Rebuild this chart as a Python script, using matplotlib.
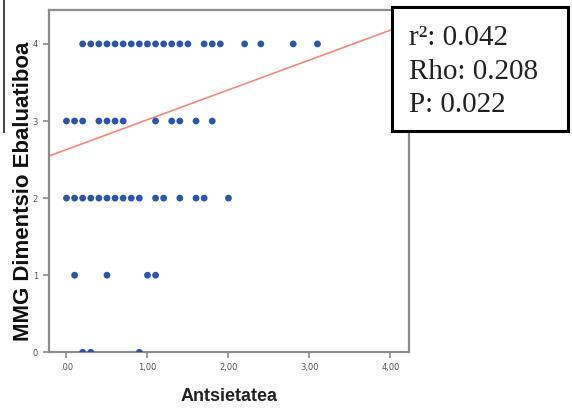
import matplotlib

matplotlib.use("Agg")
import matplotlib.pyplot as plt
import numpy as np
from matplotlib.lines import Line2D
from matplotlib.patches import Rectangle

# anxiety score per subject, grouped by dimension evaluation level
x_level4 = [0.2, 0.3, 0.4, 0.5, 0.6, 0.7, 0.8, 0.9, 1.0, 1.1, 1.2, 1.3, 1.4, 1.5,
            1.7, 1.8, 1.9, 2.2, 2.4, 2.8, 3.1]
x_level3 = [0.0, 0.1, 0.2, 0.4, 0.5, 0.6, 0.7, 1.1, 1.3, 1.4, 1.6, 1.8]
x_level2 = [0.0, 0.1, 0.2, 0.3, 0.4, 0.5, 0.6, 0.7, 0.8, 0.9, 1.1, 1.2, 1.4,
            1.6, 1.7, 2.0]
x_level1 = [0.1, 0.5, 1.0, 1.1]
x_level0 = [0.2, 0.3, 0.9]

levels = [4, 3, 2, 1, 0]
groups = [x_level4, x_level3, x_level2, x_level1, x_level0]

# fit line as reported by the stats package
fit_intercept = 2.63
fit_slope = 0.387

stats_lines = ["r²: 0.042", "Rho: 0.208", "P: 0.022"]

x_ticks = [0, 1, 2, 3, 4]
x_tick_labels = [".00", "1,00", "2,00", "3,00", "4,00"]
y_ticks = [0, 1, 2, 3, 4]

xs = np.concatenate([np.array(g) for g in groups])
ys = np.concatenate([np.full(len(g), lv) for g, lv in zip(groups, levels)])

W, H = 572, 411
fig = plt.figure(figsize=(W / 100, H / 100), dpi=100)
ax = fig.add_axes([49 / W, 1 - 352.3 / H, 360 / W, 342.3 / H])

frame_color = "#8c8c8c"
for side in ax.spines.values():
    side.set_color(frame_color)
    side.set_linewidth(1.6)

ax.scatter(xs, ys, s=24, color="#2e55a8", edgecolors="none", zorder=3)

line_x = np.array([-0.216, 4.23])
ax.plot(line_x, fit_intercept + fit_slope * line_x, color="#f08a80",
        linewidth=1.2, zorder=2)

ax.set_xlim(-0.216, 4.23)
ax.set_ylim(0, 4.44)
ax.set_xticks(x_ticks)
ax.set_xticklabels(x_tick_labels)
ax.set_yticks(y_ticks)
ax.tick_params(axis="both", direction="out", length=4, width=1.2,
               color=frame_color, labelsize=6, labelcolor="#555555", pad=4)

ax.set_xlabel("Antsietatea", fontsize=13, fontweight="bold",
              family="Liberation Sans", color="#222222", labelpad=11)
ax.set_ylabel("MMG Dimentsio Ebaluatiboa", fontsize=16, fontweight="bold",
              family="Liberation Sans", color="#111111")
ax.yaxis.set_label_coords(-15 / 360, 0.47)

# stats box drawn over the top-right corner of the frame
fig.add_artist(Rectangle((392 / W, 1 - 131 / H), 176 / W, 124 / H,
                         transform=fig.transFigure, facecolor="white",
                         edgecolor="black", linewidth=2.2, zorder=10))
for i, txt in enumerate(stats_lines):
    fig.text(409 / W, 1 - (45 + 33.5 * i) / H, txt, fontsize=21,
             family="Liberation Serif", va="baseline", ha="left",
             color="#222222", zorder=11)

# stray border fragment at the left edge
fig.add_artist(Line2D([4 / W, 4 / W], [1.0, 1 - 132 / H], color="#444444",
                      linewidth=1.4))

fig.savefig("out.png", dpi=100)
